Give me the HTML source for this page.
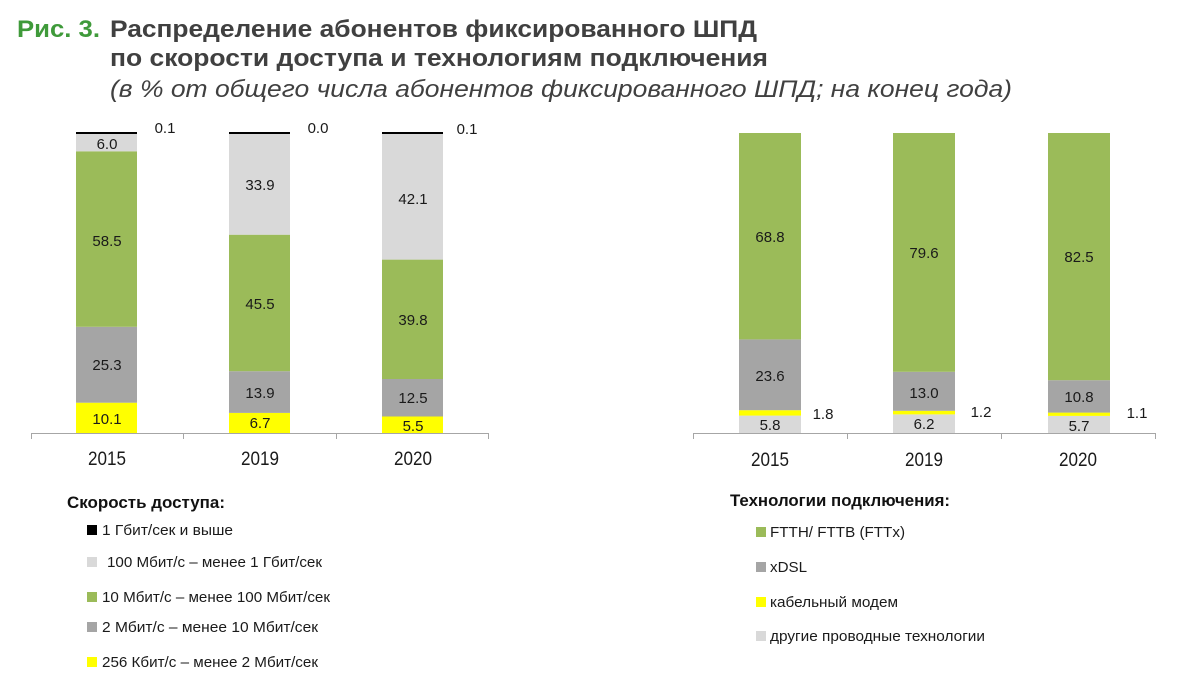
<!DOCTYPE html>
<html><head><meta charset="utf-8"><style>
html,body{margin:0;padding:0;background:#fff;}
svg{display:block;}
text{font-family:"Liberation Sans","DejaVu Sans",sans-serif;}
</style></head><body>
<svg width="1185" height="689" viewBox="0 0 1185 689" xmlns="http://www.w3.org/2000/svg">
<rect width="1185" height="689" fill="#fff"/>
<!-- Title -->
<text x="17" y="37" font-size="24" font-weight="bold" fill="#3f9a3a" textLength="83" lengthAdjust="spacingAndGlyphs">Рис. 3.</text>
<text x="110" y="37" font-size="24" font-weight="bold" fill="#404040" textLength="647" lengthAdjust="spacingAndGlyphs">Распределение абонентов фиксированного ШПД</text>
<text x="110" y="66" font-size="24" font-weight="bold" fill="#404040" textLength="658" lengthAdjust="spacingAndGlyphs">по скорости доступа и технологиям подключения</text>
<text x="110" y="97" font-size="24" font-style="italic" fill="#404040" textLength="902" lengthAdjust="spacingAndGlyphs">(в % от общего числа абонентов фиксированного ШПД; на конец года)</text>

<!-- Left chart -->
<g>
<rect x="76" y="402.7" width="61" height="30.3" fill="#ffff00"/>
<rect x="76" y="326.8" width="61" height="75.9" fill="#a5a5a5"/>
<rect x="76" y="151.3" width="61" height="175.5" fill="#9bbb59"/>
<rect x="76" y="133.3" width="61" height="18" fill="#d9d9d9"/>
<rect x="76" y="132" width="61" height="2" fill="#000"/>
<rect x="229" y="412.9" width="61" height="20.1" fill="#ffff00"/>
<rect x="229" y="371.2" width="61" height="41.7" fill="#a5a5a5"/>
<rect x="229" y="234.7" width="61" height="136.5" fill="#9bbb59"/>
<rect x="229" y="133.3" width="61" height="101.4" fill="#d9d9d9"/>
<rect x="229" y="132" width="61" height="2" fill="#000"/>
<rect x="382" y="416.5" width="61" height="16.5" fill="#ffff00"/>
<rect x="382" y="379" width="61" height="37.5" fill="#a5a5a5"/>
<rect x="382" y="259.6" width="61" height="119.4" fill="#9bbb59"/>
<rect x="382" y="133.3" width="61" height="126.3" fill="#d9d9d9"/>
<rect x="382" y="132" width="61" height="2" fill="#000"/>
<g stroke="#a6a6a6" stroke-width="1">
<line x1="31" y1="433.5" x2="489" y2="433.5"/>
<line x1="31.5" y1="433" x2="31.5" y2="439"/>
<line x1="183.5" y1="433" x2="183.5" y2="439"/>
<line x1="336.5" y1="433" x2="336.5" y2="439"/>
<line x1="488.5" y1="433" x2="488.5" y2="439"/>
</g>
<g font-size="15" fill="#1a1a1a" text-anchor="middle">
<text x="107" y="149">6.0</text>
<text x="107" y="246">58.5</text>
<text x="107" y="370">25.3</text>
<text x="107" y="424">10.1</text>
<text x="260" y="190">33.9</text>
<text x="260" y="309">45.5</text>
<text x="260" y="398">13.9</text>
<text x="260" y="428">6.7</text>
<text x="413" y="204">42.1</text>
<text x="413" y="325">39.8</text>
<text x="413" y="403">12.5</text>
<text x="413" y="431">5.5</text>
<text x="165" y="133">0.1</text>
<text x="318" y="133">0.0</text>
<text x="467" y="134">0.1</text>
</g>
<g font-size="19" fill="#1a1a1a">
<text x="88" y="465" textLength="38" lengthAdjust="spacingAndGlyphs">2015</text>
<text x="241" y="465" textLength="38" lengthAdjust="spacingAndGlyphs">2019</text>
<text x="394" y="465" textLength="38" lengthAdjust="spacingAndGlyphs">2020</text>
</g>
</g>

<!-- Right chart -->
<g>
<rect x="739" y="415.6" width="62" height="17.4" fill="#d9d9d9"/>
<rect x="739" y="410.2" width="62" height="5.4" fill="#ffff00"/>
<rect x="739" y="339.4" width="62" height="70.8" fill="#a5a5a5"/>
<rect x="739" y="133" width="62" height="206.4" fill="#9bbb59"/>
<rect x="893" y="414.4" width="62" height="18.6" fill="#d9d9d9"/>
<rect x="893" y="410.8" width="62" height="3.6" fill="#ffff00"/>
<rect x="893" y="371.8" width="62" height="39" fill="#a5a5a5"/>
<rect x="893" y="133" width="62" height="238.8" fill="#9bbb59"/>
<rect x="1048" y="415.9" width="62" height="17.1" fill="#d9d9d9"/>
<rect x="1048" y="412.6" width="62" height="3.3" fill="#ffff00"/>
<rect x="1048" y="380.2" width="62" height="32.4" fill="#a5a5a5"/>
<rect x="1048" y="133" width="62" height="247.2" fill="#9bbb59"/>
<g stroke="#a6a6a6" stroke-width="1">
<line x1="693" y1="433.5" x2="1156" y2="433.5"/>
<line x1="693.5" y1="433" x2="693.5" y2="439"/>
<line x1="847.5" y1="433" x2="847.5" y2="439"/>
<line x1="1001.5" y1="433" x2="1001.5" y2="439"/>
<line x1="1155.5" y1="433" x2="1155.5" y2="439"/>
</g>
<g font-size="15" fill="#1a1a1a" text-anchor="middle">
<text x="770" y="242">68.8</text>
<text x="770" y="381">23.6</text>
<text x="770" y="430">5.8</text>
<text x="924" y="258">79.6</text>
<text x="924" y="398">13.0</text>
<text x="924" y="429">6.2</text>
<text x="1079" y="262">82.5</text>
<text x="1079" y="402">10.8</text>
<text x="1079" y="431">5.7</text>
<text x="823" y="419">1.8</text>
<text x="981" y="417">1.2</text>
<text x="1137" y="418">1.1</text>
</g>
<g font-size="19" fill="#1a1a1a">
<text x="751" y="466" textLength="38" lengthAdjust="spacingAndGlyphs">2015</text>
<text x="905" y="466" textLength="38" lengthAdjust="spacingAndGlyphs">2019</text>
<text x="1059" y="466" textLength="38" lengthAdjust="spacingAndGlyphs">2020</text>
</g>
</g>

<!-- Left legend -->
<text x="67" y="508" font-size="17" font-weight="bold" fill="#111" textLength="158" lengthAdjust="spacingAndGlyphs">Скорость доступа:</text>
<rect x="87" y="525" width="10" height="10" fill="#000"/>
<rect x="87" y="557" width="10" height="10" fill="#d9d9d9"/>
<rect x="87" y="592" width="10" height="10" fill="#9bbb59"/>
<rect x="87" y="622" width="10" height="10" fill="#a5a5a5"/>
<rect x="87" y="657" width="10" height="10" fill="#ffff00"/>
<g font-size="15" fill="#1a1a1a">
<text x="102" y="535" textLength="131" lengthAdjust="spacingAndGlyphs">1 Гбит/сек  и выше</text>
<text x="107" y="567" textLength="215" lengthAdjust="spacingAndGlyphs">100 Мбит/с – менее 1 Гбит/сек</text>
<text x="102" y="602" textLength="228" lengthAdjust="spacingAndGlyphs">10 Мбит/с – менее 100 Мбит/сек</text>
<text x="102" y="632" textLength="216" lengthAdjust="spacingAndGlyphs">2  Мбит/с – менее 10 Мбит/сек</text>
<text x="102" y="667" textLength="216" lengthAdjust="spacingAndGlyphs">256 Кбит/с – менее 2 Мбит/сек</text>
</g>

<!-- Right legend -->
<text x="730" y="506" font-size="17" font-weight="bold" fill="#111" textLength="220" lengthAdjust="spacingAndGlyphs">Технологии подключения:</text>
<rect x="756" y="527" width="10" height="10" fill="#9bbb59"/>
<rect x="756" y="562" width="10" height="10" fill="#a5a5a5"/>
<rect x="756" y="597" width="10" height="10" fill="#ffff00"/>
<rect x="756" y="631" width="10" height="10" fill="#d9d9d9"/>
<g font-size="15" fill="#1a1a1a">
<text x="770" y="537" textLength="135" lengthAdjust="spacingAndGlyphs">FTTH/ FTTB (FTTx)</text>
<text x="770" y="572" textLength="37" lengthAdjust="spacingAndGlyphs">xDSL</text>
<text x="770" y="607" textLength="128" lengthAdjust="spacingAndGlyphs">кабельный модем</text>
<text x="770" y="641" textLength="215" lengthAdjust="spacingAndGlyphs">другие проводные технологии</text>
</g>
</svg>
</body></html>
